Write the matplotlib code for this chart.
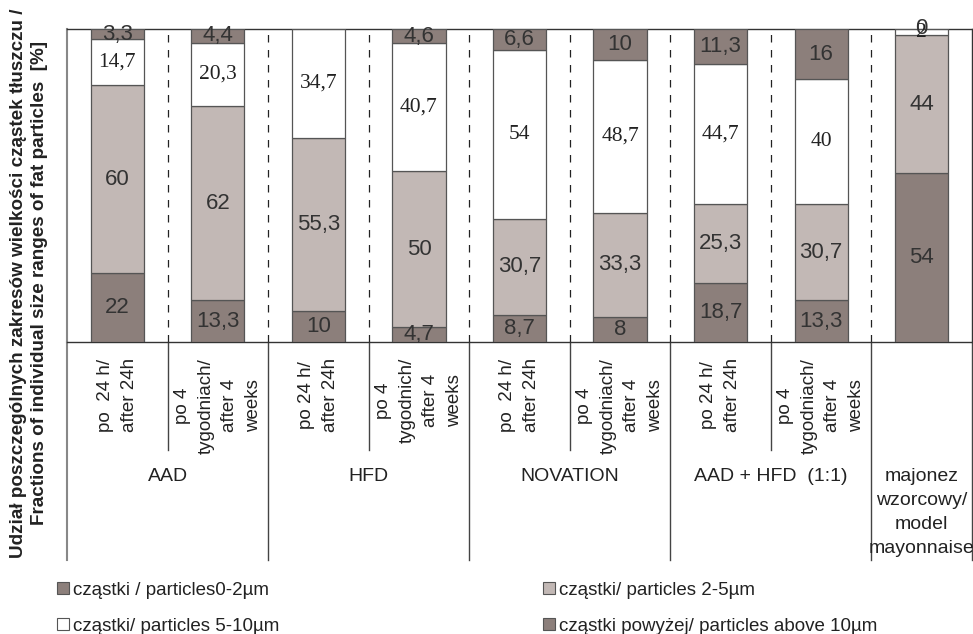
import numpy as np
import matplotlib
matplotlib.use("Agg")
import matplotlib.pyplot as plt
from matplotlib.patches import Patch
from matplotlib.transforms import blended_transform_factory

plt.rcParams['font.family'] = ['Liberation Sans', 'DejaVu Sans']

# Sub-samples (storage time) and groups of emulsions
sub_labels = ["po  24 h/\nafter 24h", "po 4\ntygodniach/\nafter 4\nweeks",
              "po 24 h/\nafter 24h", "po 4\ntygodnich/\nafter 4\nweeks",
              "po  24 h/\nafter 24h", "po 4\ntygodniach/\nafter 4\nweeks",
              "po 24 h/\nafter 24h", "po 4\ntygodniach/\nafter 4\nweeks",
              ""]
groups = ["AAD", "HFD", "NOVATION", "AAD + HFD  (1:1)",
          "majonez\nwzorcowy/\nmodel\nmayonnaise"]
group_centers = [0.5, 2.5, 4.5, 6.5, 8]

# Fractions of fat particle size ranges [%]
p_0_2 = [22, 13.3, 10, 4.7, 8.7, 8, 18.7, 13.3, 54]
p_2_5 = [60, 62, 55.3, 50, 30.7, 33.3, 25.3, 30.7, 44]
p_5_10 = [14.7, 20.3, 34.7, 40.7, 54, 48.7, 44.7, 40, 2]
p_above_10 = [3.3, 4.4, 0, 4.6, 6.6, 10, 11.3, 16, 0]

series_names = ["cząstki / particles0-2µm", "cząstki/ particles 2-5µm",
                "cząstki/ particles 5-10µm", "cząstki powyżej/ particles above 10µm"]

dark = "#8c7f7b"
light = "#c2b8b5"
white = "#ffffff"
edge = "#555555"

fig = plt.figure(figsize=(9.73, 6.34), dpi=100)
ax = fig.add_axes([67 / 973, 1 - 342 / 634, 905 / 973, 313 / 634])

x = np.arange(len(p_0_2))
series = [p_0_2, p_2_5, p_5_10, p_above_10]
colors = [dark, light, white, dark]
bottom = np.zeros(len(x))
for k, (vals, col) in enumerate(zip(series, colors)):
    vals = np.array(vals, dtype=float)
    ax.bar(x, vals, width=0.53, bottom=bottom, color=col, edgecolor=edge,
           linewidth=0.9, zorder=3)
    for i, v in enumerate(vals):
        if v == 0 and i != len(x) - 1:
            continue
        txt = f"{v:g}".replace(".", ",")
        if col == white:
            ax.text(i, bottom[i] + v / 2, txt, ha="center", va="center",
                    fontsize=15.5, family=["Liberation Serif", "DejaVu Serif"],
                    color="#222222", zorder=5)
        else:
            ax.text(i, bottom[i] + v / 2, txt, ha="center", va="center",
                    fontsize=16, color="#333333", zorder=5)
    bottom += vals

ax.set_xlim(-0.5, 8.5)
ax.set_ylim(0, 100)
ax.set_xticks([])
ax.set_yticks([])
for s in ["top", "bottom", "right"]:
    ax.spines[s].set_color("#333333")
    ax.spines[s].set_linewidth(1)
ax.spines["left"].set_color("#888888")
ax.spines["left"].set_linewidth(1.5)

# dashed separators between samples
for b in np.arange(0.5, 8.5, 1):
    ax.plot([b, b], [0, 100], color="#222222", lw=0.9, ls=(0, (6, 6)), zorder=1)

# table-like category area under the axis
tr = blended_transform_factory(ax.transData, ax.transAxes)
y_sub = (342 - 450) / 313
y_grp = (342 - 560) / 313
for b in [0.5, 2.5, 4.5, 6.5]:
    ax.plot([b, b], [0, y_sub], color="#444444", lw=1, transform=tr, clip_on=False)
for b in [1.5, 3.5, 5.5, 7.5]:
    ax.plot([b, b], [0, y_grp], color="#444444", lw=1, transform=tr, clip_on=False)
ax.plot([-0.5, -0.5], [0, y_grp], color="#888888", lw=1.5, transform=tr, clip_on=False)
ax.plot([8.5, 8.5], [0, y_grp], color="#444444", lw=1, transform=tr, clip_on=False)

for i, lab in enumerate(sub_labels):
    ax.text(i, (342 - 358) / 313, lab, rotation=90, ha="center", va="top",
            multialignment="center", fontsize=13.5, color="#222222",
            transform=tr, linespacing=1.5)

for c, g in zip(group_centers, groups):
    ax.text(c, (342 - 468) / 313, g, ha="center", va="top",
            multialignment="center", fontsize=14, color="#222222",
            transform=tr, linespacing=1.55)

fig.text(29 / 973, 1 - 283 / 634,
         "Udział poszczególnych zakresów wielkości cząstek tłuszczu /\n"
         "Fractions of individual size ranges of fat particles  [%]",
         rotation=90, ha="center", va="center", multialignment="center",
         fontsize=13.6, fontweight="bold", color="#222222", linespacing=1.3)

handles = [Patch(facecolor=c, edgecolor=edge, linewidth=0.8) for c in colors]
leg_kw = dict(loc="upper left", frameon=False, fontsize=13.5, borderpad=0,
              borderaxespad=0, handlelength=0.62, handleheight=0.62,
              handletextpad=0.25, labelspacing=1.0, labelcolor="#222222")
fig.legend([handles[0], handles[2]], [series_names[0], series_names[2]],
           bbox_to_anchor=(57 / 973, 1 - 582 / 634), **leg_kw)
fig.legend([handles[1], handles[3]], [series_names[1], series_names[3]],
           bbox_to_anchor=(543 / 973, 1 - 582 / 634), **leg_kw)

fig.savefig("out.png", dpi=100)
